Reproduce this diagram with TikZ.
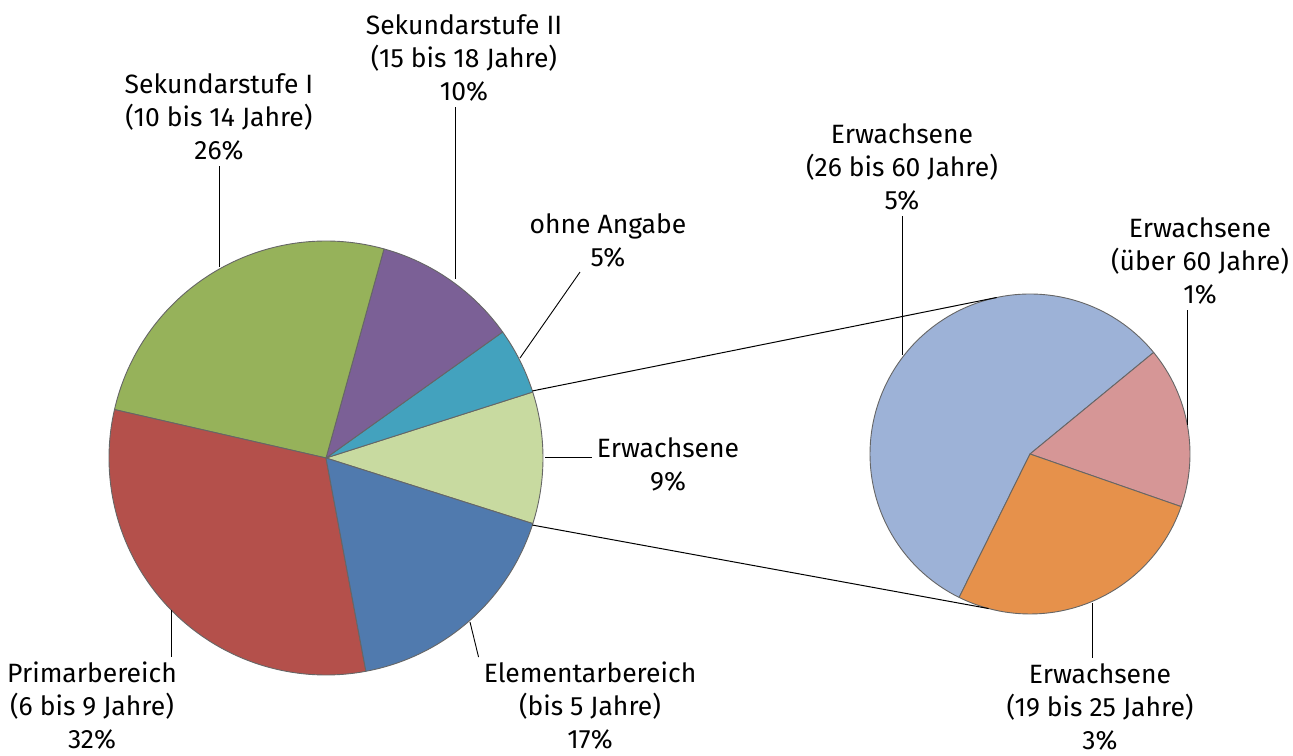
\documentclass[tikz,border=0pt]{standalone}
\usepackage{fontspec}
\setmainfont{Fira Sans}
\usepackage{xcolor}
\usepackage{tikz}
\usetikzlibrary{calc}

\definecolor{sekIgreen}{HTML}{96B25A}
\definecolor{sekIIpurple}{HTML}{7B6096}
\definecolor{ohneteal}{HTML}{43A2BE}
\definecolor{erwgreen}{HTML}{C8DAA0}
\definecolor{elemblue}{HTML}{507AAE}
\definecolor{primred}{HTML}{B4504B}
\definecolor{lightblue}{HTML}{9DB2D7}
\definecolor{lightpink}{HTML}{D69696}
\definecolor{lightorange}{HTML}{E6914B}

\begin{document}
\begin{tikzpicture}[x=1pt, y=1pt,
      slice/.style={draw=black!60, line width=0.9pt, line join=round},
      leader/.style={draw, line width=0.9pt},
      zoomline/.style={draw, line width=1pt},
      lbl/.style={align=center, inner sep=5pt, font=\fontsize{26.5}{33}\selectfont}]
      \useasboundingbox (0,0) rectangle (1293,755);

      % Pies
      \coordinate (main) at (326,297);
      \coordinate (side) at (1030,301);
      \filldraw [slice, fill=erwgreen] (main) -- ++(-17.6:217) arc[start angle=-17.6, end angle=17.7, radius=217] -- cycle;
      \filldraw [slice, fill=ohneteal] (main) -- ++(17.7:217) arc[start angle=17.7, end angle=35.5, radius=217] -- cycle;
      \filldraw [slice, fill=sekIIpurple] (main) -- ++(35.5:217) arc[start angle=35.5, end angle=74.5, radius=217] -- cycle;
      \filldraw [slice, fill=sekIgreen] (main) -- ++(74.5:217) arc[start angle=74.5, end angle=167.1, radius=217] -- cycle;
      \filldraw [slice, fill=primred] (main) -- ++(167.1:217) arc[start angle=167.1, end angle=280.6, radius=217] -- cycle;
      \filldraw [slice, fill=elemblue] (main) -- ++(280.6:217) arc[start angle=280.6, end angle=342.4, radius=217] -- cycle;

      \filldraw [slice, fill=lightblue] (side) -- ++(39.4:160) arc[start angle=39.4, end angle=243.7, radius=160] -- cycle;
      \filldraw [slice, fill=lightpink] (side) -- ++(-19.2:160) arc[start angle=-19.2, end angle=39.4, radius=160] -- cycle;
      \filldraw [slice, fill=lightorange] (side) -- ++(243.7:160) arc[start angle=243.7, end angle=340.8, radius=160] -- cycle;

      % Zoom lines
      \coordinate (mainup) at ($(main)+(18:217)$);
      \coordinate (maindown) at ($(main)+(-18:217)$);
      \coordinate (sideup) at ($(side)+(102:160)$);
      \coordinate (sidedown) at ($(side)+(255:160)$);
      \path [zoomline] (mainup) -- (sideup);
      \path [zoomline] (maindown) -- (sidedown);

      % Labels
      \node [lbl] (sekI) at (219,638) {Sekundarstufe I\\(10 bis 14 Jahre)\\26\%};
      \node [lbl] (sekII) at (464,697) {Sekundarstufe II\\(15 bis 18 Jahre)\\10\%};
      \node [lbl] (ohne) at (608,515) {ohne Angabe\\5\%};
      \node [lbl] (erw) at (668,290) {Erwachsene\\9\%};
      \node [lbl] (prim) at (92,49) {Primarbereich\\(6 bis 9 Jahre)\\32\%};
      \node [lbl] (elem) at (590,49) {Elementarbereich\\(bis 5 Jahre)\\17\%};
      \node [lbl] (erwmid) at (902,588) {Erwachsene\\(26 bis 60 Jahre)\\5\%};
      \node [lbl] (erwold) at (1200,494) {Erwachsene\\(über 60 Jahre)\\1\%};
      \node [lbl] (erwyoung) at (1100,48) {Erwachsene\\(19 bis 25 Jahre)\\3\%};

      % Leaders
      \coordinate (sekItip) at (219,488);
      \coordinate (sekIItip) at (455,476);
      \coordinate (ohnetip) at (520,397);
      \coordinate (erwtip) at (545,298);
      \coordinate (primtip) at (171,145);
      \coordinate (elemtip) at (470,133);
      \coordinate (erwmidtip) at (902,400);
      \coordinate (erwoldtip) at (1187,330);
      \coordinate (erwyoungtip) at (1092,152);
      \path [leader] (sekItip) -- (sekItip |- sekI.south);
      \path [leader] (sekIItip) -- (sekIItip |- sekII.south);
      \path [leader] (ohnetip) -- ([xshift=-28pt]ohne.south);
      \path [leader] (erwtip) -- (erwtip -| erw.west);
      \path [leader] (primtip) -- (primtip |- prim.north);
      \path [leader] (elemtip) -- (elem.north west);
      \path [leader] (erwmidtip) -- (erwmidtip |- erwmid.south);
      \path [leader] (erwoldtip) -- (erwoldtip |- erwold.south);
      \path [leader] (erwyoungtip) -- (erwyoungtip |- erwyoung.north);

    \end{tikzpicture}
\end{document}
